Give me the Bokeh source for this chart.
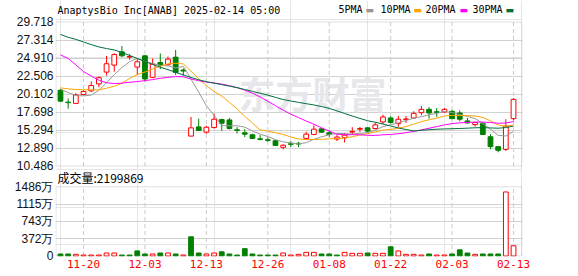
from bokeh.plotting import figure
from bokeh.models import (Range1d, LinearAxis, FixedTicker, Grid, CustomJSTickFormatter,
                          Label, ColumnDataSource, BoxAnnotation)
from bokeh.embed import file_html
from bokeh.resources import INLINE

# ---------------- data ----------------
dates = ["11-15", "11-18", "11-19", "11-20", "11-21", "11-22", "11-25", "11-26", "11-27", "11-29",
         "12-02", "12-03", "12-04", "12-05", "12-06", "12-09", "12-10", "12-11", "12-12", "12-13",
         "12-16", "12-17", "12-18", "12-19", "12-20", "12-23", "12-24", "12-26", "12-27", "12-30",
         "12-31", "01-02", "01-03", "01-06", "01-07", "01-08", "01-10", "01-13", "01-14", "01-15",
         "01-16", "01-17", "01-21", "01-22", "01-23", "01-24", "01-27", "01-28", "01-29", "01-30",
         "01-31", "02-03", "02-04", "02-05", "02-06", "02-07", "02-10", "02-11", "02-12", "02-13"]

opens = [20.61, 19.02, 18.85, 20.03, 20.52, 21.45, 23.03, 23.96, 25.73, 25.02,
         23.70, 25.20, 22.33, 24.31, 24.01, 25.02, 23.30, 14.48, 15.71, 15.01,
         15.62, 16.68, 16.64, 15.32, 14.92, 14.65, 14.12, 13.99, 13.86, 12.98,
         13.46, 13.51, 14.17, 14.70, 15.45, 14.92, 14.08, 14.26, 15.01, 15.40,
         15.58, 15.49, 16.37, 16.90, 16.15, 16.68, 16.90, 17.61, 18.05, 17.74,
         17.70, 17.79, 17.57, 16.51, 16.02, 16.15, 14.39, 13.07, 12.71, 16.81]
highs = [20.79, 19.50, 20.21, 20.61, 21.76, 22.46, 25.20, 25.55, 26.52, 25.42,
         24.76, 25.33, 24.84, 25.51, 25.11, 25.99, 23.52, 17.04, 16.81, 15.85,
         17.48, 16.81, 16.90, 15.67, 15.40, 14.79, 14.61, 14.30, 13.95, 13.38,
         13.82, 13.73, 15.05, 15.93, 15.49, 15.18, 14.61, 14.88, 15.67, 15.71,
         15.67, 16.29, 17.35, 17.12, 17.17, 17.17, 17.79, 18.49, 18.36, 18.23,
         18.23, 17.96, 17.92, 16.90, 16.37, 16.37, 14.74, 13.15, 16.73, 19.55]
lows = [19.02, 18.14, 18.85, 19.99, 20.34, 21.01, 22.55, 23.08, 25.02, 24.67,
        22.64, 21.76, 22.20, 23.43, 23.87, 22.64, 22.55, 14.48, 15.14, 14.79,
        15.49, 15.18, 15.36, 14.83, 14.35, 14.08, 13.90, 13.73, 13.15, 12.71,
        13.02, 13.02, 13.95, 14.61, 14.92, 14.39, 13.82, 13.64, 14.70, 15.05,
        14.92, 15.36, 16.07, 16.15, 15.71, 16.24, 16.81, 17.26, 16.81, 17.04,
        17.61, 16.73, 16.46, 16.15, 15.75, 14.61, 12.71, 12.32, 12.49, 16.59]
closes = [19.15, 18.95, 19.99, 20.43, 21.23, 22.28, 24.14, 25.37, 25.20, 25.11,
          24.40, 22.11, 24.09, 23.96, 24.76, 22.99, 23.17, 15.58, 15.23, 15.67,
          16.73, 16.20, 15.49, 15.23, 14.74, 14.17, 14.04, 13.90, 13.24, 13.26,
          13.38, 13.42, 14.74, 15.40, 15.01, 14.70, 14.35, 14.61, 15.10, 15.49,
          15.14, 15.98, 17.04, 16.29, 16.73, 16.77, 17.52, 18.05, 17.57, 17.65,
          18.05, 16.81, 16.73, 16.24, 16.29, 14.70, 13.07, 12.58, 15.80, 19.38]

# volume in 万 (10,000 shares)
volumes = [43, 43, 36, 21, 21, 21, 64, 64, 21, 21,
           110, 43, 43, 64, 64, 43, 21, 412, 64, 43,
           64, 90, 43, 21, 158, 43, 21, 21, 21, 64,
           21, 36, 78, 78, 43, 43, 21, 78, 57, 57,
           64, 57, 57, 197, 108, 36, 36, 21, 43, 21,
           21, 43, 132, 64, 36, 43, 43, 43, 1375, 219.9869]

ma5 = [20.75, 20.30, 19.90, 19.85, 19.95, 20.58, 21.61, 22.69, 23.64, 24.42,
       24.84, 24.44, 24.18, 23.93, 23.86, 23.58, 23.79, 22.09, 20.35, 18.53,
       17.28, 15.88, 15.86, 15.86, 15.68, 15.17, 14.73, 14.42, 14.02, 13.72,
       13.56, 13.44, 13.60, 14.04, 14.39, 14.65, 14.84, 14.81, 14.75, 14.85,
       14.94, 15.26, 15.75, 15.99, 16.24, 16.56, 16.87, 17.07, 17.33, 17.51,
       17.77, 17.63, 17.36, 17.10, 16.82, 16.15, 15.41, 14.58, 14.49, 15.11]
ma10 = [20.92, 20.79, 20.70, 20.68, 20.65, 20.65, 20.87, 21.14, 21.54, 22.19,
        22.71, 23.03, 23.44, 23.79, 24.14, 24.21, 24.12, 23.14, 22.14, 21.20,
        20.43, 19.84, 18.98, 18.11, 17.10, 16.22, 15.31, 15.14, 14.94, 14.70,
        14.36, 14.09, 14.01, 14.03, 14.05, 14.11, 14.14, 14.21, 14.40, 14.62,
        14.80, 15.05, 15.28, 15.37, 15.54, 15.75, 16.07, 16.41, 16.66, 16.87,
        17.17, 17.25, 17.22, 17.21, 17.17, 16.96, 16.52, 15.97, 15.79, 15.97]
ma20 = [25.33, 24.85, 24.00, 23.10, 22.50, 21.95, 21.60, 21.50, 21.55, 21.67,
        21.76, 21.89, 22.02, 22.20, 22.33, 22.42, 22.40, 22.10, 21.88, 21.69,
        21.57, 21.43, 21.21, 20.95, 20.62, 20.22, 19.71, 19.14, 18.54, 17.95,
        17.40, 16.96, 16.49, 16.07, 15.58, 15.16, 14.72, 14.67, 14.67, 14.66,
        14.58, 14.57, 14.65, 14.70, 14.80, 14.93, 15.10, 15.31, 15.53, 15.75,
        15.98, 16.15, 16.25, 16.29, 16.36, 16.36, 16.29, 16.19, 16.23, 16.42]
ma30 = [28.06, 27.67, 27.40, 27.05, 26.70, 26.39, 26.17, 25.99, 25.64, 25.25,
        24.85, 24.45, 24.05, 23.68, 23.35, 23.00, 22.65, 22.30, 22.00, 21.75,
        21.55, 21.35, 21.15, 20.95, 20.70, 20.45, 20.20, 19.95, 19.65, 19.36,
        19.17, 18.98, 18.81, 18.64, 18.43, 18.18, 17.85, 17.50, 17.16, 16.84,
        16.53, 16.33, 16.09, 15.83, 15.57, 15.36, 15.17, 15.25, 15.33, 15.40,
        15.44, 15.46, 15.50, 15.54, 15.59, 15.61, 15.57, 15.53, 15.62, 15.82]

price_ticks = [10.486, 12.890, 15.294, 17.698, 20.102, 22.506, 24.910, 27.314, 29.718]
vol_ticks = [0, 372, 743, 1115, 1486]
vol_tick_labels = ["0", "372万", "743万", "1115万", "1486万"]
date_tick_labels = ["11-20", "12-03", "12-13", "12-26", "01-08", "01-22", "02-03", "02-13"]

title_text = "AnaptysBio Inc[ANAB] 2025-02-14 05:00"
vol_title = "成交量:2199869"
ma_names = ["5PMA", "10PMA", "20PMA", "30PMA"]

# ---------------- styles / layout ----------------
RED = "#ff0000"
GREEN = "#008000"
MA_COLORS = ["#999999", "#ffa500", "#ff00ff", "#006f3c"]
GRID = "#d2d2d2"
DASH = "#cccccc"
FRAME = "#999999"
MONO = "DejaVu Sans Mono"
W, H = 578, 276
FRAME_BOTTOM = 256          # canvas y of frame bottom (frame spans 0..256)
P_TOP, P_BOT = 21.5, 165.5  # price box, canvas y
V_TOP, V_BOT = 186.3, 255.5 # volume box, canvas y

idx = list(range(len(dates)))
tick_pos = [dates.index(d) for d in date_tick_labels]

up = [c >= o for o, c in zip(opens, closes)]
ccolor = [RED if u else GREEN for u in up]
cfill = ["white" if u else GREEN for u in up]
btop = [max(o, c) for o, c in zip(opens, closes)]
bbot = [min(o, c) for o, c in zip(opens, closes)]
prev = [opens[0]] + closes[:-1]
vup = [c >= pc for c, pc in zip(closes, prev)]
vcolor = [RED if u else GREEN for u in vup]
vfill = ["white" if u else GREEN for u in vup]

src = ColumnDataSource(dict(x=idx, o=opens, h=highs, l=lows, c=closes, top=btop, bot=bbot,
                            col=ccolor, fill=cfill, vol=volumes, vcol=vcolor, vfill=vfill))

# x mapping: 467 px frame
X0, X1 = -0.65, 60.17
xpx = 467 / (X1 - X0)
half = 0.5 / xpx

# price scale (units per px) and its range over the whole frame
pmin, pmax = price_ticks[0], price_ticks[-1]
ppx = (pmax - pmin) / (P_BOT - P_TOP)
PR = Range1d(pmax - (FRAME_BOTTOM - P_TOP) * ppx, pmax + P_TOP * ppx)

# volume scale and its range over the whole frame
vmin, vmax = vol_ticks[0], vol_ticks[-1]
vpx = (vmax - vmin) / (V_BOT - V_TOP)
VR = Range1d(vmin - (FRAME_BOTTOM - V_BOT) * vpx, vmin + V_BOT * vpx)


def vol_to_price(v):
    y = V_BOT - (v - vmin) / vpx
    return pmax - (y - P_TOP) * ppx


axis_pos = price_ticks + [vol_to_price(v) for v in vol_ticks]
axis_lab = [f"{t:.3f}" for t in price_ticks] + vol_tick_labels

p = figure(width=W, height=H, x_range=Range1d(X0, X1), y_range=PR,
           x_axis_location=None, y_axis_location=None, output_backend="svg",
           toolbar_location=None, min_border_left=55, min_border_right=56,
           min_border_top=0, min_border_bottom=H - FRAME_BOTTOM, outline_line_color=None,
           background_fill_color="white", border_fill_color="white")
p.extra_y_ranges = {"vol": VR}

lookup = ("let b = -1, d = 1e9; for (let i = 0; i < pos.length; i++) {"
          " const e = Math.abs(pos[i] - tick); if (e < d) { d = e; b = i; } }"
          " return d < 1e-6 ? lab[b] : '';")

yax = LinearAxis(ticker=FixedTicker(ticks=axis_pos),
                 formatter=CustomJSTickFormatter(args=dict(pos=axis_pos, lab=axis_lab), code=lookup),
                 axis_line_color=None, major_tick_line_color=None, minor_tick_line_color=None,
                 major_tick_out=0, major_tick_in=0, minor_tick_out=0, major_label_standoff=2,
                 major_label_text_font="Liberation Sans", major_label_text_font_size="12px",
                 major_label_text_color="#111111")
p.add_layout(yax, "left")

xax = LinearAxis(ticker=FixedTicker(ticks=tick_pos),
                 formatter=CustomJSTickFormatter(args=dict(pos=tick_pos, lab=date_tick_labels), code=lookup),
                 axis_line_color=None, major_tick_line_color=None, minor_tick_line_color=None,
                 major_tick_out=0, major_tick_in=0, minor_tick_out=0, major_label_standoff=3,
                 major_label_text_font=MONO, major_label_text_font_size="11px",
                 major_label_text_color=RED)
p.add_layout(xax, "below")

# gridlines
p.add_layout(Grid(dimension=1, ticker=FixedTicker(ticks=price_ticks[1:-1]), grid_line_color=GRID))
p.add_layout(Grid(dimension=1, y_range_name="vol", ticker=FixedTicker(ticks=vol_ticks[1:-1]),
                  grid_line_color=GRID))
p.segment(x0=tick_pos, y0=[pmin] * len(tick_pos), x1=tick_pos, y1=[pmax] * len(tick_pos),
          line_color=DASH, line_width=1, line_dash="4 3")
p.segment(x0=tick_pos, y0=[vmin] * len(tick_pos), x1=tick_pos, y1=[vmax] * len(tick_pos),
          line_color=DASH, line_width=1, line_dash="4 3", y_range_name="vol")

# watermark
p.add_layout(Label(x=183, y=FRAME_BOTTOM - 92, x_units="screen", y_units="screen", text="东方财富",
                   text_font="Noto Sans CJK SC", text_font_size="37px", text_font_style="bold",
                   text_color="#e6e6eb", text_baseline="middle", level="underlay"))

# candles
p.segment(x0="x", y0="l", x1="x", y1="h", color="col", line_width=1, source=src)
p.vbar(x="x", width=0.62, top="top", bottom="bot", fill_color="fill", line_color="col",
       line_width=1, source=src)

for ma, colr in zip([ma5, ma10, ma20, ma30], MA_COLORS):
    p.line(idx, ma, color=colr, line_width=1)

# volume bars
p.vbar(x="x", width=0.62, top="vol", bottom=0, fill_color="vfill", line_color="vcol",
       line_width=1, source=src, y_range_name="vol")

# panel frames
p.add_layout(BoxAnnotation(left=X0 + half, right=X1 - half, bottom=pmin, top=pmax,
                           fill_color=None, line_color=FRAME, line_width=1))
p.add_layout(BoxAnnotation(left=X0 + half, right=X1 - half, bottom=vmin, top=vmax,
                           y_range_name="vol", fill_color=None, line_color=FRAME, line_width=1))

# title, legend, volume caption (screen units: x from frame left, y from frame bottom)
p.add_layout(Label(x=2, y=FRAME_BOTTOM - 9.5, x_units="screen", y_units="screen", text=title_text,
                   text_font=MONO, text_font_size="10px", text_color="#000000",
                   text_baseline="middle"))
leg_x = [283, 325, 370, 417]
sw_x = [310, 358, 404, 450]
for name, lx, sx, colr in zip(ma_names, leg_x, sw_x, MA_COLORS):
    p.add_layout(Label(x=lx, y=FRAME_BOTTOM - 9, x_units="screen", y_units="screen", text=name,
                       text_font=MONO, text_font_size="10px", text_color="#000000",
                       text_baseline="middle"))
    p.add_layout(Label(x=sx, y=FRAME_BOTTOM - 9, x_units="screen", y_units="screen", text="▬",
                       text_font="DejaVu Sans", text_font_size="9px", text_color=colr,
                       text_baseline="middle"))
p.add_layout(Label(x=2, y=FRAME_BOTTOM - 177, x_units="screen", y_units="screen", text=vol_title,
                   text_font="Noto Sans CJK SC", text_font_size="12px", text_color="#000000",
                   text_baseline="middle"))

open("out.html", "w").write(file_html(p, INLINE))
